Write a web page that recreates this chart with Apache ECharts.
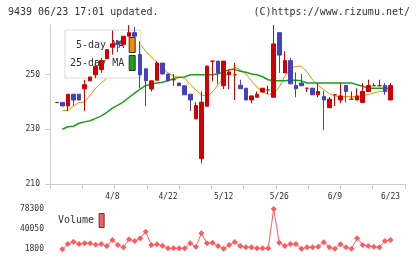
<!DOCTYPE html>
<html><head><meta charset="utf-8">
<script src="https://cdn.jsdelivr.net/npm/echarts@6/dist/echarts.min.js"></script>
<style>html,body{margin:0;padding:0;background:#fff}#c{width:420px;height:259px}</style>
</head><body><div id="c"></div>
<script>
const dates = ['3/25','3/26','3/27','3/28','3/31','4/1','4/2','4/3','4/4','4/7',
  '4/8','4/9','4/10','4/11','4/14','4/15','4/16','4/17','4/18','4/21',
  '4/22','4/23','4/24','4/25','4/28','4/30','5/1','5/2','5/7','5/8',
  '5/12','5/13','5/14','5/15','5/16','5/19','5/20','5/21','5/22','5/23',
  '5/26','5/27','5/28','5/29','5/30','6/2','6/3','6/4','6/5','6/6',
  '6/9','6/10','6/11','6/12','6/13','6/16','6/17','6/18','6/19','6/20','6/23'];
const opens = [239.8,239.8,238.5,242.8,242.8,244.8,247.7,249.9,251.8,255.8,
  260,262.2,261,264,265.3,257.3,252.1,244.7,247.9,254.2,
  250.2,248.1,246.9,245.9,242.8,233.8,219.3,238.4,254.9,254.9,
  245.9,249.9,249.9,246.1,245,240.7,241.7,243.6,244.4,241.7,
  265.3,250.6,255.1,246,246.9,245,245,242.6,242,237.9,
  242.6,240.7,246,241,240.7,239.8,243.8,245.9,245.9,246,240.7];
const closes = [239.8,238.5,242.8,240.7,240.7,246.3,249.1,253,255.1,259.1,
  261.2,261,264,265.3,264,249.9,247.7,247.7,254.2,250.2,
  247.7,248.1,245.9,242.6,240.7,238.7,239.9,253.1,254.9,250.6,
  254.9,250.9,249.9,244.8,240.7,242.2,242.8,245,244.4,261.2,
  257.1,255.1,246.6,244.8,245.9,245,242.6,243.8,240.7,241,
  242.6,242.2,243.8,241,242.2,243.8,246,245.9,245.9,243.8,246];
const lows = [239.8,238.5,236.7,238.7,240.7,236.7,247.7,248.7,250.6,255.8,
  257.3,258.2,261,264,263.5,245,238.5,243.8,247.9,250.2,
  247.7,245.9,245.9,242.6,236.7,233.8,217.5,238.4,247.7,246.5,
  244.7,244.7,240.7,244.8,240.7,239.5,241.7,243.6,242.8,241.7,
  250.6,250.6,246.6,241.7,245.9,243.6,242.6,241.7,229.7,237.9,
  238.5,239.5,239.8,241,240.7,239.8,243.8,245.9,245.9,242.6,240.7];
const highs = [239.8,239.8,242.8,242.8,242.8,248.1,249.1,255.1,256.1,259.1,
  266.1,262.2,264,268.1,267.4,262.2,252.1,247.7,254.9,254.2,
  250.2,250.2,246.9,245.9,242.8,239.9,243.8,253.1,254.9,254.9,
  254.9,251.8,254.2,248.1,245,242.2,243.8,245,245.9,268.1,
  265.3,258.5,256.1,250.8,250.2,245,245,246.9,244,241.8,
  242.6,246.9,246,243.8,245,246.9,248.1,246.9,248.1,246.9,246.9];
const ma5 = [null,236.8,236.9,238.5,239.8,239.9,242.4,245,246.9,248.7,
  251.5,255,258,260.5,262,261.2,258.5,256.3,254.6,252.4,
  250.6,249.3,249,248.7,246.3,244.4,242.6,242,243.6,246.3,
  248.7,251.2,252.6,251.8,250.2,247.7,245.4,243.6,242.8,243,
  245.5,249.3,252.2,253,253,251,248,246,244.5,243,
  242.2,241.9,241.9,241.9,242,242.3,242.7,243.3,243.8,244,244];
const ma25 = [null,230,230.9,231.1,232.2,232.7,233.1,234,234.9,236.2,
  237.7,238.8,240,241.7,243.2,244.7,246,246.5,246.9,247.2,
  247.7,248.5,249,249.1,249.9,249.9,249.9,249.9,249.9,250.3,
  250.9,251.8,251.8,251.2,250.8,250.2,249.9,249.2,248.1,247.7,
  247.7,247.7,247.9,247.9,247.7,246.9,246.9,246.9,246.9,246.9,
  246.9,246.9,246.9,246.9,246.3,245.7,245,245,245,245,245];
const volumes = [null,1800,11900,16200,11900,13200,13200,10500,11900,8100,
  19500,10000,5600,20800,17600,22700,35200,10000,11300,8600,
  3700,3700,3700,3700,13200,6700,32200,13200,14400,8100,
  3000,10000,15700,8100,5600,5600,3700,3700,3700,78300,
  14400,8100,11900,11900,3000,5600,5600,6700,15100,5600,
  3000,11300,5600,3000,22700,10000,8100,6700,5600,17600,19500];
const labelDates = ['4/8','4/22','5/12','5/26','6/9','6/23'];
const priceMin = 210, priceMax = 268.1, priceStep = 20;
const volMin = 1800, volMax = 78300, volStep = 38250;

const FONT = 'DejaVu Sans Mono';
const TXT = '#333';
const candles = dates.map((d, i) => [opens[i], closes[i], lows[i], highs[i]]);

const chart = echarts.init(document.getElementById('c'), null, {renderer: 'canvas'});
chart.setOption({
  animation: false,
  backgroundColor: '#fff',
  title: [
    {text: '9439 06/23 17:01 updated.', left: 8, top: 7, padding: 0,
     textStyle: {fontFamily: FONT, fontSize: 10, fontWeight: 'normal', color: TXT}},
    {text: '(C)https://www.rizumu.net/', right: 10, top: 7, padding: 0,
     textStyle: {fontFamily: FONT, fontSize: 10, fontWeight: 'normal', color: TXT}}
  ],
  legend: [
    {data: ['5-day MA', '25-day MA'], orient: 'vertical', align: 'right', left: 65, top: 30,
     padding: [7, 5, 7, 5], itemWidth: 6, itemHeight: 15, itemGap: 2, icon: 'rect',
     backgroundColor: '#fff', borderColor: '#d8d8d8', borderWidth: 1, z: 2, selectedMode: false,
     textStyle: {fontFamily: FONT, fontSize: 10, color: TXT},
     itemStyle: {borderColor: '#333', borderWidth: 1}},
    {data: ['Volume'], orient: 'vertical', align: 'right', left: 58, top: 213,
     padding: 0, itemWidth: 5, itemHeight: 14, icon: 'rect', selectedMode: false,
     textStyle: {fontFamily: FONT, fontSize: 10, color: TXT},
     itemStyle: {borderColor: '#444', borderWidth: 1}}
  ],
  grid: [
    {left: 54, right: 26.7, top: 25, bottom: 75},
    {left: 50, right: 15, top: 25, bottom: 75},
    {left: 54, right: 26.7, top: 209, bottom: 9.7}
  ],
  xAxis: [
    {type: 'category', gridIndex: 0, data: dates, boundaryGap: true,
     axisLine: {show: false}, axisTick: {show: false}, splitLine: {show: false},
     axisLabel: {interval: (i, v) => labelDates.includes(v), fontFamily: FONT, fontSize: 8, color: TXT, margin: 9}},
    {type: 'value', gridIndex: 1, min: 0, max: 11, interval: 1,
     axisLine: {show: true, lineStyle: {color: '#cccccc'}},
     axisTick: {show: true, length: 5, lineStyle: {color: '#cccccc'}},
     axisLabel: {show: false}, splitLine: {show: false}},
    {type: 'category', gridIndex: 2, data: dates, boundaryGap: true, show: false}
  ],
  yAxis: [
    {type: 'value', gridIndex: 0, min: priceMin, max: priceMax, show: false, splitLine: {show: false}},
    {type: 'value', gridIndex: 1, min: priceMin, max: priceMax, interval: priceStep,
     axisLine: {show: true, lineStyle: {color: '#cccccc'}},
     axisTick: {show: true, length: 5, lineStyle: {color: '#cccccc'}},
     axisLabel: {fontFamily: FONT, fontSize: 8, color: TXT, margin: 10, showMaxLabel: false},
     splitLine: {show: false}},
    {type: 'value', gridIndex: 2, min: volMin, max: volMax, interval: volStep,
     axisLine: {show: false}, axisTick: {show: false}, splitLine: {show: false},
     axisLabel: {fontFamily: FONT, fontSize: 8, color: TXT, margin: 10, formatter: v => String(v)}}
  ],
  series: [
    {type: 'line', name: '5-day MA', xAxisIndex: 0, yAxisIndex: 0, data: ma5, symbol: 'none', z: 1,
     lineStyle: {color: '#f08c00', width: 1}, itemStyle: {color: '#f08c00'}},
    {type: 'line', name: '25-day MA', xAxisIndex: 0, yAxisIndex: 0, data: ma25, symbol: 'none', z: 1,
     lineStyle: {color: '#1ca01c', width: 1.5}, itemStyle: {color: '#1ca01c'}},
    {type: 'candlestick', name: 'price', xAxisIndex: 0, yAxisIndex: 0, data: candles, barWidth: 4, z: 3,
     itemStyle: {color: '#d40000', color0: '#4343c0', borderColor: '#d40000', borderColor0: '#4343c0',
                 borderColorDoji: '#d40000', borderWidth: 1}},
    {type: 'line', name: 'Volume', xAxisIndex: 2, yAxisIndex: 2, data: volumes, symbol: 'diamond', symbolSize: 6,
     showAllSymbol: true,
     lineStyle: {color: '#ff5a5f', width: 1}, itemStyle: {color: '#ff5a5f'}}
  ]
});
</script></body></html>
